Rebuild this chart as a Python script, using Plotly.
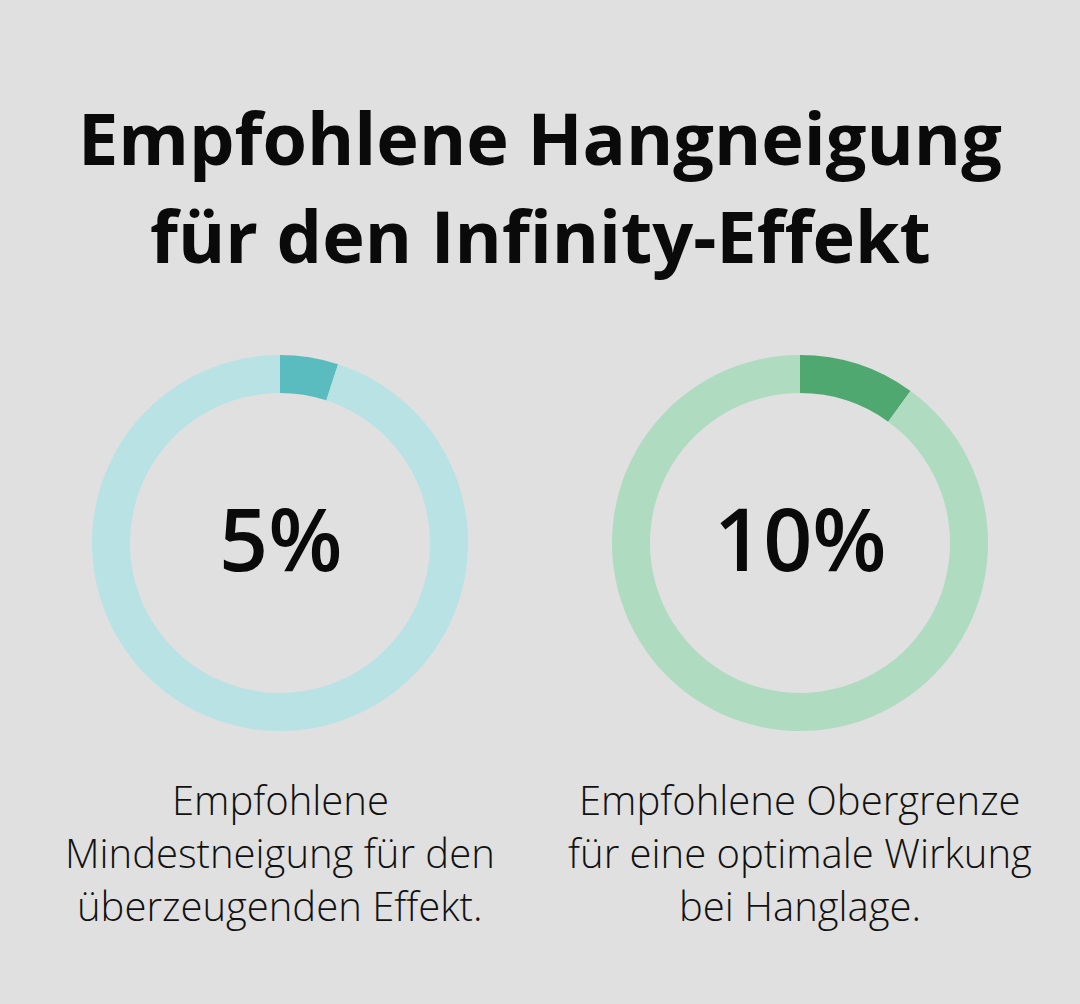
import plotly.graph_objects as go

title_lines = ["Empfohlene Hangneigung", "für den Infinity-Effekt"]
values = [5, 10]
labels = ["5%", "10%"]
captions = [
    ["Empfohlene", "Mindestneigung für den", "überzeugenden Effekt."],
    ["Empfohlene Obergrenze", "für eine optimale Wirkung", "bei Hanglage."],
]
dark_colors = ["#5bbcbf", "#4fa86f"]
light_colors = ["#b9e2e4", "#afdbc0"]

W, H = 1080, 1004
BG = "#dfe0df"
centers_x = [280, 800]
cy = 543
R = 188

fig = go.Figure()
for i, v in enumerate(values):
    cx = centers_x[i]
    fig.add_trace(go.Pie(
        values=[v, 100 - v],
        marker=dict(colors=[dark_colors[i], light_colors[i]], line=dict(width=0)),
        hole=150 / 188,
        sort=False,
        direction="clockwise",
        rotation=0,
        textinfo="none",
        hoverinfo="none",
        showlegend=False,
        domain=dict(x=[(cx - R) / W, (cx + R) / W], y=[1 - (cy + R) / H, 1 - (cy - R) / H]),
    ))
    fig.add_annotation(x=cx / W, y=1 - 537 / H, xref="paper", yref="paper",
                       text=labels[i], showarrow=False, xanchor="center", yanchor="middle",
                       font=dict(family="Open Sans", size=86, color="#0a0a0a", weight=600))
    for j, line in enumerate(captions[i]):
        fig.add_annotation(x=cx / W, y=1 - (799 + 53 * j) / H, xref="paper", yref="paper",
                           text=line, showarrow=False, xanchor="center", yanchor="middle",
                           font=dict(family="Open Sans", size=40, color="#111111", weight=300))

for j, line in enumerate(title_lines):
    fig.add_annotation(x=0.5, y=1 - (137 + 98 * j) / H, xref="paper", yref="paper",
                       text=line, showarrow=False, xanchor="center", yanchor="middle",
                       font=dict(family="Open Sans", size=72, color="#0a0a0a", weight=700))

fig.update_layout(width=W, height=H, margin=dict(l=0, r=0, t=0, b=0),
                  paper_bgcolor=BG, plot_bgcolor=BG)
fig.write_html("out.html")
